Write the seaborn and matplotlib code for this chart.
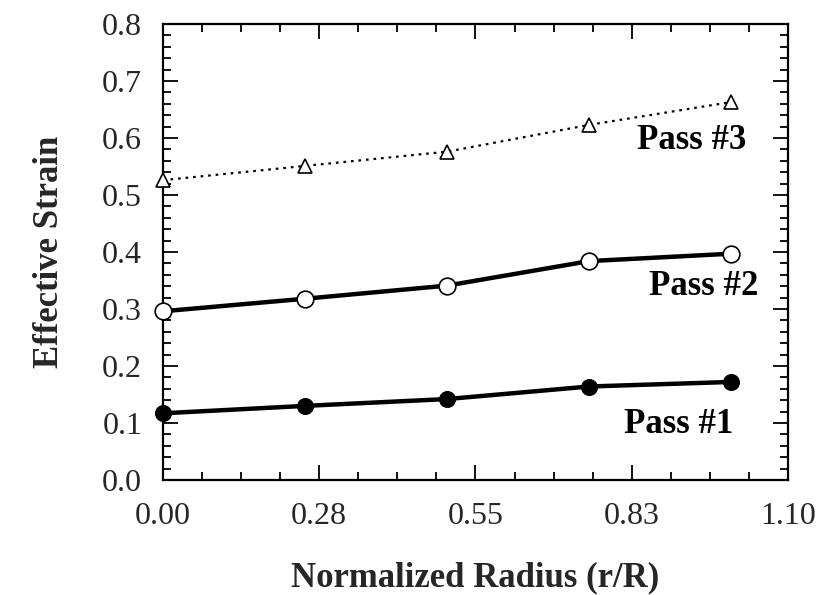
import matplotlib
matplotlib.use("Agg")
import matplotlib.pyplot as plt
import seaborn as sns
import pandas as pd
from matplotlib.ticker import FixedLocator, MultipleLocator

# ---- data ----
radius = [0.0, 0.25, 0.5, 0.75, 1.0]
pass1 = [0.117, 0.130, 0.142, 0.164, 0.172]
pass2 = [0.296, 0.318, 0.341, 0.384, 0.397]
pass3 = [0.526, 0.551, 0.576, 0.623, 0.663]
series_names = ["Pass #1", "Pass #2", "Pass #3"]
xtick_vals = [0.0, 0.275, 0.55, 0.825, 1.1]
xtick_labels = ["0.00", "0.28", "0.55", "0.83", "1.10"]
ytick_vals = [0.0, 0.1, 0.2, 0.3, 0.4, 0.5, 0.6, 0.7, 0.8]
ytick_labels = ["0.0", "0.1", "0.2", "0.3", "0.4", "0.5", "0.6", "0.7", "0.8"]
label_pos = [(0.908, 0.098), (0.952, 0.340), (0.931, 0.595)]

sns.set_style("ticks")
plt.rcParams["font.family"] = ["Liberation Serif", "DejaVu Serif"]

df = pd.DataFrame({"r": radius * 3,
                   "strain": pass1 + pass2 + pass3,
                   "pass": sum([[n] * len(radius) for n in series_names], [])})

fig = plt.figure(figsize=(8.22, 5.95), dpi=100)
ax = fig.add_axes([0.1983, 0.1933, 0.9586 - 0.1983, 0.9597 - 0.1933])

sub = df[df["pass"] == "Pass #1"]
sns.lineplot(data=sub, x="r", y="strain", ax=ax, color="black", lw=3.2,
             marker="o", markersize=11.5, markerfacecolor="black",
             markeredgecolor="black", legend=False, clip_on=False, zorder=5)
sub = df[df["pass"] == "Pass #2"]
sns.lineplot(data=sub, x="r", y="strain", ax=ax, color="black", lw=3.2,
             marker="o", markersize=12, markerfacecolor="white",
             markeredgecolor="black", markeredgewidth=1.2, legend=False,
             clip_on=False, zorder=5)
sub = df[df["pass"] == "Pass #3"]
sns.lineplot(data=sub, x="r", y="strain", ax=ax, color="black", lw=1.6,
             linestyle=(0, (1.2, 2.2)), marker="^", markersize=10,
             markerfacecolor="white", markeredgecolor="black",
             markeredgewidth=1.2, legend=False, clip_on=False, zorder=5)

for name, (lx, ly) in zip(series_names, label_pos):
    ax.text(lx, ly, name, fontsize=25, fontweight="bold", ha="center",
            va="center", color="black")

ax.set_xlim(0, 1.1)
ax.set_ylim(0, 0.8)
ax.xaxis.set_major_locator(FixedLocator(xtick_vals))
ax.set_xticklabels(xtick_labels)
ax.xaxis.set_minor_locator(MultipleLocator(0.06875))
ax.yaxis.set_major_locator(FixedLocator(ytick_vals))
ax.set_yticklabels(ytick_labels)
ax.yaxis.set_minor_locator(MultipleLocator(0.02))

ax.tick_params(which="both", direction="in", top=True, right=True,
               color="black", width=1.3)
ax.tick_params(which="major", length=11, labelsize=23)
ax.tick_params(axis="x", which="major", pad=16)
ax.tick_params(axis="y", which="major", pad=15)
ax.tick_params(which="minor", length=6)
for s in ax.spines.values():
    s.set_linewidth(1.6)
    s.set_color("black")

ax.set_xlabel("Normalized Radius (r/R)", fontsize=25, fontweight="bold",
              labelpad=22)
ax.set_ylabel("Effective Strain", fontsize=25, fontweight="bold",
              labelpad=26)

fig.savefig("out.png", dpi=100)
